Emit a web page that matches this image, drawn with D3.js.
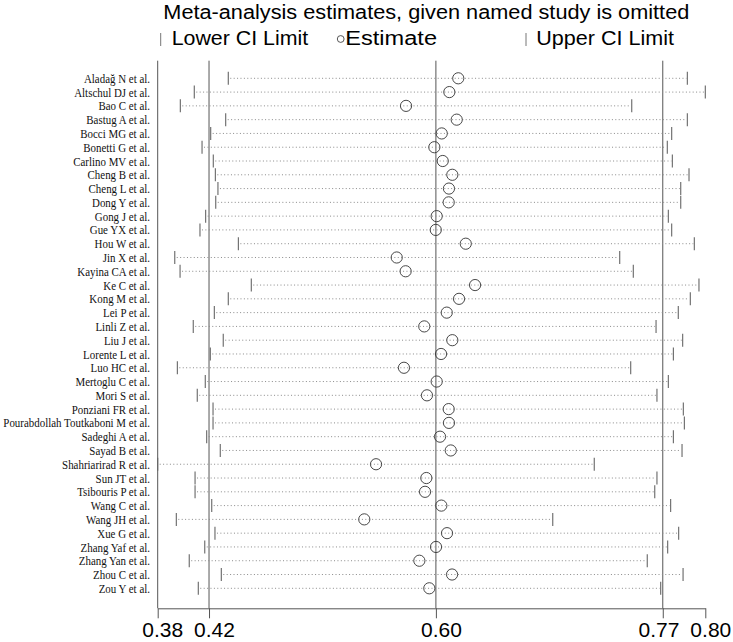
<!DOCTYPE html>
<html>
<head>
<meta charset="utf-8">
<script src="https://cdn.jsdelivr.net/npm/d3@7"></script>
<style>
  html, body { margin: 0; padding: 0; background: #fff; }
  svg { display: block; }
</style>
</head>
<body>
<script>
// ---- Data ----
const studies = [
  "Aladağ N et al.", "Altschul DJ et al.", "Bao C et al.", "Bastug A et al.",
  "Bocci MG et al.", "Bonetti G et al.", "Carlino MV et al.", "Cheng B et al.",
  "Cheng L et al.", "Dong Y et al.", "Gong J et al.", "Gue YX et al.",
  "Hou W et al.", "Jin X et al.", "Kayina CA et al.", "Ke C et al.",
  "Kong M et al.", "Lei P et al.", "Linli Z et al.", "Liu J et al.",
  "Lorente L et al.", "Luo HC et al.", "Mertoglu C et al.", "Mori S et al.",
  "Ponziani FR et al.", "Pourabdollah Toutkaboni M et al.", "Sadeghi A et al.", "Sayad B et al.",
  "Shahriarirad R et al.", "Sun JT et al.", "Tsibouris P et al.", "Wang C et al.",
  "Wang JH et al.", "Xue G et al.", "Zhang Yaf et al.", "Zhang Yan et al.",
  "Zhou C et al.", "Zou Y et al."
];
const lowerCI = [
  0.4354, 0.4091, 0.3983, 0.4334, 0.4218, 0.4151, 0.4238, 0.4254,
  0.4274, 0.4257, 0.4179, 0.4135, 0.4432, 0.3940, 0.3981, 0.4532,
  0.4354, 0.4246, 0.4083, 0.4315, 0.4215, 0.3960, 0.4176, 0.4114,
  0.4236, 0.4236, 0.4187, 0.4292, 0.3808, 0.4097, 0.4097, 0.4226,
  0.3952, 0.4251, 0.4172, 0.4052, 0.4300, 0.4122
];
const estimate = [
  0.6133, 0.6064, 0.5729, 0.6121, 0.6005, 0.5948, 0.6013, 0.6087,
  0.6061, 0.6059, 0.5966, 0.5959, 0.6191, 0.5657, 0.5726, 0.6263,
  0.6139, 0.6044, 0.5870, 0.6087, 0.6000, 0.5713, 0.5966, 0.5891,
  0.6059, 0.6061, 0.5992, 0.6075, 0.5497, 0.5886, 0.5876, 0.6002,
  0.5406, 0.6046, 0.5961, 0.5832, 0.6085, 0.5909
];
const upperCI = [
  0.7905, 0.8044, 0.7475, 0.7905, 0.7784, 0.7750, 0.7789, 0.7918,
  0.7854, 0.7854, 0.7758, 0.7784, 0.7959, 0.7382, 0.7487, 0.7995,
  0.7928, 0.7835, 0.7663, 0.7869, 0.7797, 0.7467, 0.7758, 0.7670,
  0.7874, 0.7882, 0.7797, 0.7864, 0.7185, 0.7670, 0.7653, 0.7776,
  0.6864, 0.7838, 0.7753, 0.7595, 0.7872, 0.7699
];
// overall (all studies) estimate and CI
const overall = { lower: 0.4205, estimate: 0.5960, upper: 0.7715 };
const titleText = "Meta-analysis estimates, given named study is omitted";
const legendLabels = ["Lower CI Limit", "Estimate", "Upper CI Limit"];

// ---- Layout ----
const W = 733, H = 642;
const svg = d3.select("body").append("svg").attr("width", W).attr("height", H);

const xMin = d3.min(lowerCI), xMax = d3.max(upperCI);
const x = d3.scaleLinear().domain([xMin, xMax]).range([157.7, 705.3]);
const y = d3.scalePoint().domain(studies).range([78.3, 588.3]);
const plotTop = 60.7, plotBottom = 608.3;

const rows = studies.map((s, i) => ({ name: s, lo: lowerCI[i], est: estimate[i], hi: upperCI[i] }));

// Title
svg.append("text")
  .attr("x", 163.3).attr("y", 18.5)
  .attr("font-family", "'Liberation Sans', Arial, sans-serif")
  .attr("font-size", 19.5)
  .attr("textLength", 526).attr("lengthAdjust", "spacingAndGlyphs")
  .attr("fill", "#000")
  .text(titleText);

// Legend
const legFont = "'Liberation Sans', Arial, sans-serif";
svg.append("line").attr("x1", 160.7).attr("x2", 160.7).attr("y1", 33).attr("y2", 46)
  .attr("stroke", "#777").attr("stroke-width", 1);
svg.append("text").attr("x", 171.7).attr("y", 45).attr("font-family", legFont).attr("font-size", 19.5)
  .attr("textLength", 136.5).attr("lengthAdjust", "spacingAndGlyphs").text(legendLabels[0]);
svg.append("circle").attr("cx", 340.7).attr("cy", 39).attr("r", 3.4)
  .attr("fill", "none").attr("stroke", "#444").attr("stroke-width", 0.9);
svg.append("text").attr("x", 345.3).attr("y", 45).attr("font-family", legFont).attr("font-size", 19.5)
  .attr("textLength", 91.7).attr("lengthAdjust", "spacingAndGlyphs").text(legendLabels[1]);
svg.append("line").attr("x1", 526).attr("x2", 526).attr("y1", 33).attr("y2", 46)
  .attr("stroke", "#777").attr("stroke-width", 1);
svg.append("text").attr("x", 536.3).attr("y", 45).attr("font-family", legFont).attr("font-size", 19.5)
  .attr("textLength", 137.7).attr("lengthAdjust", "spacingAndGlyphs").text(legendLabels[2]);

// Reference vertical lines (overall lower, estimate, upper)
svg.append("g").selectAll("line")
  .data([overall.lower, overall.estimate, overall.upper])
  .join("line")
  .attr("x1", d => x(d)).attr("x2", d => x(d))
  .attr("y1", plotTop).attr("y2", plotBottom)
  .attr("stroke", "#555").attr("stroke-width", 1);

// Left axis line
svg.append("line").attr("x1", x(xMin)).attr("x2", x(xMin))
  .attr("y1", plotTop).attr("y2", plotBottom)
  .attr("stroke", "#555").attr("stroke-width", 1);

// Bottom axis
const tickVals = [xMin, overall.lower, overall.estimate, overall.upper, xMax];
const xAxis = d3.axisBottom(x).tickValues(tickVals).tickFormat(d3.format(".2f")).tickSize(10).tickSizeOuter(0);
const gx = svg.append("g").attr("transform", `translate(0,${plotBottom})`).call(xAxis);
gx.select(".domain").attr("stroke", "#555").attr("stroke-width", 1);
gx.selectAll(".tick line").attr("stroke", "#555");
const tickTexts = gx.selectAll(".tick text")
  .attr("font-family", "'Liberation Sans', Arial, sans-serif")
  .attr("font-size", 21).attr("fill", "#000")
  .attr("y", 14).attr("dy", "0.71em").attr("dx", 5);
// avoid overlapping tick labels: push crowded labels apart (right to left)
(function () {
  const nodes = tickTexts.nodes();
  const info = nodes.map((n, i) => ({ n, c: x(tickVals[i]) + 5, w: n.getComputedTextLength() }));
  const gap = 11;
  for (let i = info.length - 2; i >= 0; i--) {
    const need = (info[i].w + info[i + 1].w) / 2 + gap;
    if (info[i + 1].c - info[i].c < need) info[i].c = info[i + 1].c - need;
  }
  info.forEach((d, i) => d3.select(d.n).attr("dx", d.c - x(tickVals[i])));
})();

// Rows
const gRows = svg.append("g");
// dotted lines
gRows.selectAll("line.dots").data(rows).join("line").attr("class", "dots")
  .attr("x1", d => x(d.lo) + 2).attr("x2", d => x(d.hi) - 1)
  .attr("y1", d => y(d.name)).attr("y2", d => y(d.name))
  .attr("stroke", "#8a8a8a").attr("stroke-width", 1)
  .attr("stroke-dasharray", "1 2.4");
// lower ticks
gRows.selectAll("line.lo").data(rows).join("line").attr("class", "lo")
  .attr("x1", d => x(d.lo)).attr("x2", d => x(d.lo))
  .attr("y1", d => y(d.name) - 6.5).attr("y2", d => y(d.name) + 6.5)
  .attr("stroke", "#666").attr("stroke-width", 1.1);
// upper ticks
gRows.selectAll("line.hi").data(rows).join("line").attr("class", "hi")
  .attr("x1", d => x(d.hi)).attr("x2", d => x(d.hi))
  .attr("y1", d => y(d.name) - 6.5).attr("y2", d => y(d.name) + 6.5)
  .attr("stroke", "#666").attr("stroke-width", 1.1);
// estimate circles
gRows.selectAll("circle").data(rows).join("circle")
  .attr("cx", d => x(d.est)).attr("cy", d => y(d.name)).attr("r", 5.6)
  .attr("fill", "none").attr("stroke", "#333").attr("stroke-width", 0.9);
// labels (condensed serif, right-aligned)
gRows.selectAll("text").data(rows).join("text")
  .attr("transform", d => `translate(150,${y(d.name)}) scale(0.84,1)`)
  .attr("x", 0).attr("y", 0).attr("dy", "0.35em")
  .attr("text-anchor", "end")
  .attr("font-family", "'Liberation Serif', 'Times New Roman', serif")
  .attr("font-size", 13)
  .attr("fill", "#111")
  .text(d => d.name);
</script>
</body>
</html>
